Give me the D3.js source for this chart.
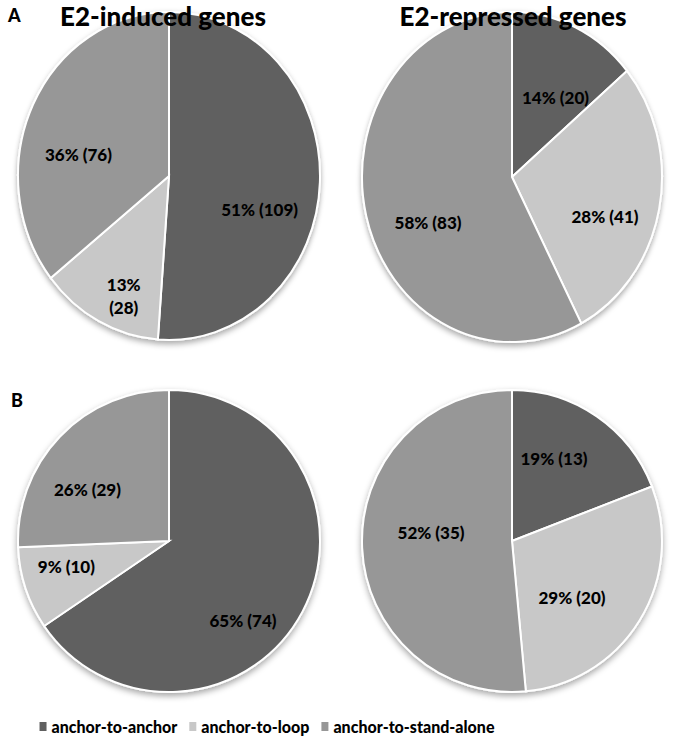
<!DOCTYPE html>
<html>
<head>
<meta charset="utf-8">
<script src="https://cdn.jsdelivr.net/npm/d3@7/dist/d3.min.js"></script>
<style>
  body { margin: 0; background: #fff; }
  svg { font-family: Lato, "Open Sans", sans-serif; font-weight: 900; }
</style>
</head>
<body>
<div id="chart"></div>
<script>
// categories and colours
var categories = ["anchor-to-anchor", "anchor-to-loop", "anchor-to-stand-alone"];
var colors = ["#606060", "#c8c8c8", "#979797"];

// gene counts per panel, in category order
var inducedA = [109, 28, 76];
var repressedA = [20, 41, 83];
var inducedB = [74, 10, 29];
var repressedB = [13, 20, 35];

var titles = ["E2-induced genes", "E2-repressed genes"];
var panelLetters = ["A", "B"];

// pie layout: center, radii and label offsets (fractions of radius)
var pies = [
  { values: inducedA, cx: 169, cy: 176, rx: 151, ry: 164,
    labels: [[0.60, 0.21], [-0.30, 0.73], [-0.60, -0.13]], wrap: [false, true, false] },
  { values: repressedA, cx: 512, cy: 177, rx: 150, ry: 165,
    labels: [[0.29, -0.48], [0.62, 0.24], [-0.56, 0.28]], wrap: [false, false, false] },
  { values: inducedB, cx: 169, cy: 541, rx: 151, ry: 151,
    labels: [[0.49, 0.53], [-0.68, 0.17], [-0.54, -0.34]], wrap: [false, false, false] },
  { values: repressedB, cx: 512, cy: 541, rx: 150, ry: 151,
    labels: [[0.28, -0.54], [0.40, 0.38], [-0.54, -0.05]], wrap: [false, false, false] }
];

// percentages that add up to 100 (largest remainder, like the spreadsheet)
function percents(vals) {
  var total = d3.sum(vals);
  var raw = vals.map(function(v) { return v / total * 100; });
  var out = raw.map(Math.floor);
  var left = 100 - d3.sum(out);
  var order = d3.range(vals.length).sort(function(a, b) {
    return (raw[b] - out[b]) - (raw[a] - out[a]);
  });
  for (var k = 0; k < left; k++) out[order[k]] += 1;
  return out;
}

var W = 680, H = 737;
var svg = d3.select("#chart").append("svg")
  .attr("width", W)
  .attr("height", H);

var defs = svg.append("defs");
var f = defs.append("filter").attr("id", "shadow")
  .attr("x", "-10%").attr("y", "-10%").attr("width", "120%").attr("height", "125%");
f.append("feDropShadow")
  .attr("dx", 0).attr("dy", 3)
  .attr("stdDeviation", 3)
  .attr("flood-color", "#000")
  .attr("flood-opacity", 0.35);

var color = d3.scaleOrdinal().domain(categories).range(colors);

var pie = d3.pie().sort(null).value(function(d) { return d; });

pies.forEach(function(p) {
  var pcts = percents(p.values);
  var arcs = pie(p.values);
  var arc = d3.arc().innerRadius(0).outerRadius(p.ry);

  var g = svg.append("g")
    .attr("transform", "translate(" + p.cx + "," + p.cy + ")");

  g.append("g")
    .attr("filter", "url(#shadow)")
    .attr("transform", "scale(" + (p.rx / p.ry) + ",1)")
    .selectAll("path")
    .data(arcs)
    .enter().append("path")
    .attr("d", arc)
    .attr("fill", function(d, i) { return color(categories[i]); })
    .attr("stroke", "#fff")
    .attr("stroke-width", 2)
    .attr("vector-effect", "non-scaling-stroke");

  arcs.forEach(function(d, i) {
    var pct = pcts[i] + "%";
    var cnt = "(" + d.value + ")";
    var x = p.labels[i][0] * p.rx;
    var y = p.labels[i][1] * p.ry;
    var t = g.append("text")
      .attr("text-anchor", "middle")
      .attr("font-size", 17)
      .attr("fill", "#000");
    if (p.wrap[i]) {
      t.append("tspan").attr("x", x).attr("y", y - 5).text(pct);
      t.append("tspan").attr("x", x).attr("y", y + 18).text(cnt);
    } else {
      t.attr("x", x).attr("y", y + 6).text(pct + " " + cnt);
    }
  });
});

// column titles
svg.selectAll(".title")
  .data(titles)
  .enter().append("text")
  .attr("class", "title")
  .attr("x", function(d, i) { return i === 0 ? 163 : 513; })
  .attr("y", 26)
  .attr("text-anchor", "middle")
  .attr("font-size", 26)
  .attr("fill", "#000")
  .text(function(d) { return d; });

// panel letters
svg.selectAll(".letter")
  .data(panelLetters)
  .enter().append("text")
  .attr("class", "letter")
  .attr("x", function(d, i) { return i === 0 ? 8 : 11; })
  .attr("y", function(d, i) { return i === 0 ? 22 : 407; })
  .attr("font-size", 18)
  .attr("fill", "#000")
  .text(function(d) { return d; });

// legend, laid out from the measured text widths and centred under the pies
var leg = svg.append("g").attr("class", "legend");
var items = categories.map(function(c) {
  var lg = leg.append("g");
  lg.append("rect").attr("x", 0).attr("y", 2).attr("width", 7).attr("height", 9)
    .attr("fill", color(c));
  var t = lg.append("text").attr("x", 12).attr("y", 13)
    .attr("font-size", 16)
    .attr("fill", "#000")
    .text(c);
  return { g: lg, w: 12 + t.node().getComputedTextLength() };
});
var gap = 12;
var totalW = d3.sum(items, function(d) { return d.w; }) + gap * (items.length - 1);
var lx = 267 - totalW / 2;
items.forEach(function(it) {
  it.g.attr("transform", "translate(" + lx + ",720)");
  lx += it.w + gap;
});
</script>
</body>
</html>
